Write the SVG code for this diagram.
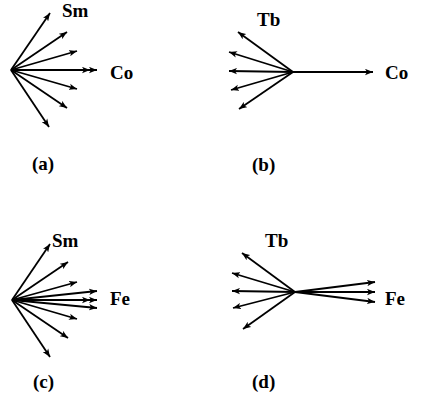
<svg xmlns="http://www.w3.org/2000/svg" width="421" height="399" viewBox="0 0 421 399">
<defs>
<marker id="ah" viewBox="0 0 10 8" refX="10" refY="4" markerWidth="8" markerHeight="7" markerUnits="userSpaceOnUse" orient="auto"><path d="M0,0 L10,4 L0,8 L2.5,4 Z" fill="#000"/></marker>
</defs>
<style>
.v{stroke:#000;stroke-width:1.8;fill:none;marker-end:url(#ah)}
text{font-family:"Liberation Serif","Times New Roman",serif;font-weight:bold;font-size:19px;fill:#000}
</style>
<rect width="421" height="399" fill="#fff"/>
<g id="connectors">
<g id="a-vectors">
<line class="v" x1="11" y1="70" x2="50" y2="13"/>
<line class="v" x1="11" y1="70" x2="67" y2="32"/>
<line class="v" x1="11" y1="70" x2="77" y2="51"/>
<line class="v" x1="11" y1="70" x2="90" y2="70"/>
<line class="v" x1="11" y1="70" x2="97" y2="70"/>
<line class="v" x1="11" y1="70" x2="77" y2="89"/>
<line class="v" x1="11" y1="70" x2="67" y2="108"/>
<line class="v" x1="11" y1="70" x2="49" y2="127"/>
</g>
<g id="b-vectors">
<line class="v" x1="293" y1="72" x2="238" y2="32"/>
<line class="v" x1="293" y1="72" x2="229" y2="52"/>
<line class="v" x1="293" y1="72" x2="229" y2="71"/>
<line class="v" x1="293" y1="72" x2="231" y2="90"/>
<line class="v" x1="293" y1="72" x2="239" y2="109"/>
<line class="v" x1="293" y1="72" x2="373" y2="72"/>
</g>
<g id="c-vectors">
<line class="v" x1="12" y1="300" x2="50" y2="244"/>
<line class="v" x1="12" y1="300" x2="68" y2="262"/>
<line class="v" x1="12" y1="300" x2="77" y2="282"/>
<line class="v" x1="12" y1="300" x2="97" y2="291"/>
<line class="v" x1="12" y1="300" x2="90" y2="300"/>
<line class="v" x1="12" y1="300" x2="97" y2="300"/>
<line class="v" x1="12" y1="300" x2="97" y2="308"/>
<line class="v" x1="12" y1="300" x2="77" y2="319"/>
<line class="v" x1="12" y1="300" x2="68" y2="338"/>
<line class="v" x1="12" y1="300" x2="50" y2="357"/>
</g>
<g id="d-vectors">
<line class="v" x1="295" y1="292" x2="242" y2="253"/>
<line class="v" x1="295" y1="292" x2="232" y2="273"/>
<line class="v" x1="295" y1="292" x2="232" y2="291"/>
<line class="v" x1="295" y1="292" x2="233" y2="308"/>
<line class="v" x1="295" y1="292" x2="243" y2="329"/>
<line class="v" x1="295" y1="292" x2="375" y2="282"/>
<line class="v" x1="295" y1="292" x2="375" y2="292"/>
<line class="v" x1="295" y1="292" x2="375" y2="302"/>
</g>
</g>
<g id="panel-a">
<text x="62" y="17">Sm</text>
<text x="110" y="79">Co</text>
<text x="32" y="170">(a)</text>
</g>
<g id="panel-b">
<text x="257" y="26">Tb</text>
<text x="385" y="79">Co</text>
<text x="252" y="171">(b)</text>
</g>
<g id="panel-c">
<text x="52" y="247">Sm</text>
<text x="110" y="305">Fe</text>
<text x="33" y="388">(c)</text>
</g>
<g id="panel-d">
<text x="265" y="247">Tb</text>
<text x="385" y="305">Fe</text>
<text x="252" y="388">(d)</text>
</g>
</svg>
